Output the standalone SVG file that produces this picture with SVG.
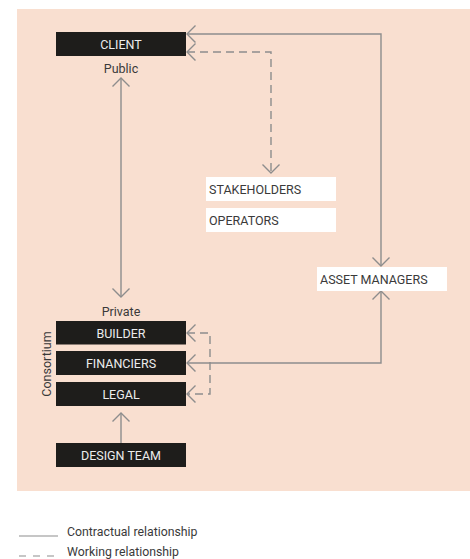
<svg xmlns="http://www.w3.org/2000/svg" width="470" height="559" viewBox="0 0 470 559">
  <defs>
    <style>
      .dark { fill: #1e1d1b; }
      .light { fill: #ffffff; }
      .t-dark { font-family: Roboto, "Liberation Sans", sans-serif; font-size: 12.5px; fill: #ececec; text-anchor: middle; }
      .t-light { font-family: Roboto, "Liberation Sans", sans-serif; font-size: 12.5px; fill: #3a3a3a; }
      .label { font-family: Roboto, "Liberation Sans", sans-serif; font-size: 12.5px; fill: #3a3a3a; }
      .legend { font-family: Roboto, "Liberation Sans", sans-serif; font-size: 12.3px; fill: #3a3a3a; }
      .solid { fill: none; stroke: #8d8d8d; stroke-width: 1.4; }
      .dashed { fill: none; stroke: #8d8d8d; stroke-width: 1.4; stroke-dasharray: 8 5; }
    </style>
    <marker id="chev" markerUnits="userSpaceOnUse" markerWidth="20" markerHeight="20" refX="0" refY="0" viewBox="-10 -10 20 20" orient="auto-start-reverse" overflow="visible">
      <path d="M -8.5 -8.5 L 0 0 L -8.5 8.5" fill="none" stroke="#8d8d8d" stroke-width="1.4"/>
    </marker>
  </defs>

  <!-- panel -->
  <rect x="17" y="9" width="453" height="482" fill="#f9dfd0"/>

  <!-- connectors -->
  <g id="connectors">
    <path class="solid" d="M 187 34 H 381 V 266" marker-start="url(#chev)" marker-end="url(#chev)"/>
    <path class="dashed" d="M 187 52 H 271 V 173" marker-start="url(#chev)" marker-end="url(#chev)"/>
    <path class="solid" d="M 121 78 V 297" marker-start="url(#chev)" marker-end="url(#chev)"/>
    <path class="solid" d="M 187 363 H 381 V 291" marker-start="url(#chev)" marker-end="url(#chev)"/>
    <path class="dashed" d="M 187 333 H 210 V 394 H 187" marker-start="url(#chev)" marker-end="url(#chev)"/>
    <path class="solid" d="M 121 443 V 413" marker-end="url(#chev)"/>
  </g>

  <!-- nodes -->
  <g id="client">
    <rect class="dark" x="56" y="32" width="130" height="24"/>
    <text class="t-dark" x="121" y="48.5">CLIENT</text>
  </g>
  <text class="label" x="121" y="72.5" text-anchor="middle">Public</text>

  <g id="stakeholders">
    <rect class="light" x="206" y="177" width="130" height="24"/>
    <text class="t-light" x="209" y="193.5">STAKEHOLDERS</text>
  </g>
  <g id="operators">
    <rect class="light" x="206" y="208" width="130" height="24"/>
    <text class="t-light" x="209" y="224.5">OPERATORS</text>
  </g>
  <g id="asset-managers">
    <rect class="light" x="317" y="267" width="130" height="24"/>
    <text class="t-light" x="320" y="283.5">ASSET MANAGERS</text>
  </g>

  <text class="label" x="121" y="315.5" text-anchor="middle">Private</text>
  <text class="label" x="0" y="0" text-anchor="middle" transform="translate(51 364) rotate(-90)">Consortium</text>

  <g id="builder">
    <rect class="dark" x="56" y="321" width="130" height="23.5"/>
    <text class="t-dark" x="121" y="337.5">BUILDER</text>
  </g>
  <g id="financiers">
    <rect class="dark" x="56" y="351" width="130" height="24"/>
    <text class="t-dark" x="121" y="367.5">FINANCIERS</text>
  </g>
  <g id="legal">
    <rect class="dark" x="56" y="382" width="130" height="24"/>
    <text class="t-dark" x="121" y="398.5">LEGAL</text>
  </g>
  <g id="design-team">
    <rect class="dark" x="56" y="443" width="130" height="24"/>
    <text class="t-dark" x="121" y="459.5">DESIGN TEAM</text>
  </g>

  <!-- legend -->
  <g id="legend">
    <line x1="19" y1="536" x2="58" y2="536" stroke="#8d8d8d" stroke-width="1.2"/>
    <text class="legend" x="67" y="536">Contractual relationship</text>
    <line x1="19" y1="556" x2="58" y2="556" stroke="#8d8d8d" stroke-width="1.2" stroke-dasharray="7 7"/>
    <text class="legend" x="67" y="556">Working relationship</text>
  </g>
</svg>
